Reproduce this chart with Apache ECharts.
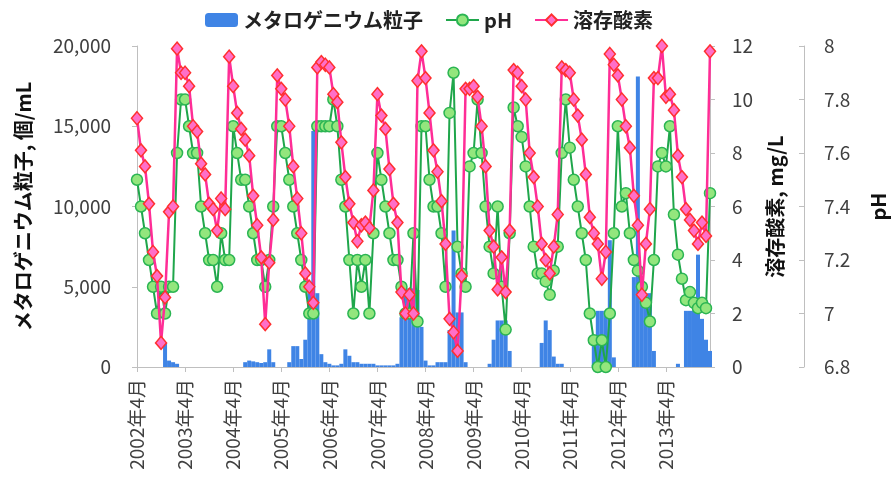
<!DOCTYPE html>
<html>
<head>
<meta charset="utf-8">
<script src="https://cdn.jsdelivr.net/npm/echarts@6/dist/echarts.min.js"></script>
<style>
  html, body { margin: 0; padding: 0; background: #fff; }
  #chart { width: 896px; height: 489px; }
</style>
</head>
<body>
<div id="chart"></div>
<script>
// months 2002-04 .. 2014-03, one value per month
var startYear = 2002
var months = []
for (var i = 0; i < 144; i++) {
  var m = (3 + i) % 12 + 1
  var y = startYear + Math.floor((3 + i) / 12)
  months.push(y + '年' + m + '月')
}

// メタロゲニウム粒子 (個/mL)
var particles = [
  0, 0, 0, 0, 0, 0, 0, 1500, 400, 300, 200, 0,              // 2002
  0, 0, 0, 0, 0, 0, 0, 0, 0, 0, 0, 0,                       // 2003
  0, 0, 0, 300, 400, 350, 300, 250, 300, 1100, 300, 0,      // 2004
  0, 0, 300, 1300, 1300, 500, 1700, 4600, 14700, 4600, 800, 300, // 2005
  200, 100, 100, 200, 1100, 700, 300, 300, 200, 200, 200, 200,   // 2006
  100, 100, 100, 100, 100, 200, 3100, 4900, 4900, 4900, 4800, 2500, // 2007
  400, 100, 100, 300, 300, 300, 2300, 8500, 3400, 3400, 300, 0,  // 2008
  0, 0, 0, 0, 200, 1700, 2900, 2900, 2900, 1000, 0, 0,      // 2009
  0, 0, 0, 0, 0, 1500, 2900, 2300, 650, 200, 200, 0,        // 2010
  0, 0, 0, 0, 0, 0, 1700, 3500, 3500, 3500, 7900, 600,      // 2011
  0, 0, 0, 0, 5600, 18100, 5000, 4600, 4600, 1000, 0, 0,    // 2012
  0, 0, 0, 200, 0, 3500, 3500, 3500, 7000, 3000, 1700, 1000 // 2013
]

// pH
var ph = [
  7.5, 7.4, 7.3, 7.2, 7.1, 7.0, 7.1, 7.0, 7.1, 7.1, 7.6, 7.8,
  7.8, 7.7, 7.6, 7.6, 7.4, 7.3, 7.2, 7.2, 7.1, 7.3, 7.2, 7.2,
  7.7, 7.6, 7.5, 7.5, 7.4, 7.3, 7.2, 7.2, 7.1, 7.2, 7.4, 7.7,
  7.7, 7.6, 7.5, 7.4, 7.3, 7.2, 7.1, 7.0, 7.0, 7.7, 7.7, 7.7,
  7.7, 7.8, 7.7, 7.5, 7.4, 7.2, 7.0, 7.2, 7.1, 7.2, 7.0, 7.3,
  7.6, 7.5, 7.4, 7.3, 7.2, 7.2, 7.1, 7.0, 7.0, 7.3, 6.97, 7.7,
  7.7, 7.5, 7.4, 7.4, 7.3, 7.1, 7.75, 7.9, 7.25, 7.15, 7.1, 7.55,
  7.6, 7.8, 7.6, 7.4, 7.25, 7.15, 7.4, 7.1, 6.94, 7.3, 7.77, 7.7,
  7.66, 7.55, 7.4, 7.25, 7.15, 7.15, 7.12, 7.07, 7.16, 7.25, 7.6, 7.8,
  7.62, 7.5, 7.4, 7.3, 7.2, 7.0, 6.9, 6.8, 6.9, 6.8, 7.0, 7.3,
  7.7, 7.4, 7.45, 7.3, 7.2, 7.16, 7.1, 7.04, 6.97, 7.2, 7.55, 7.6,
  7.55, 7.7, 7.37, 7.22, 7.13, 7.05, 7.08, 7.04, 7.02, 7.04, 7.02, 7.45
]

// 溶存酸素 (mg/L)
var dissolvedOxygen = [
  9.3, 8.1, 7.5, 6.1, 4.3, 3.4, 0.9, 2.6, 5.8, 6.0, 11.9, 11.0,
  11.0, 10.5, 9.0, 8.8, 7.6, 7.2, 6.1, 5.9, 5.1, 6.3, 5.9, 11.6,
  10.5, 9.5, 8.9, 8.5, 7.9, 6.4, 5.3, 4.1, 1.6, 3.9, 5.5, 10.9,
  10.4, 10.0, 9.0, 7.5, 6.3, 5.0, 3.5, 3.0, 2.4, 11.2, 11.4, 11.3,
  11.2, 10.2, 9.9, 8.4, 7.1, 6.1, 5.4, 4.7, 5.3, 5.4, 5.2, 6.6,
  10.2, 9.4, 8.9, 7.4, 6.1, 5.4, 2.8, 2.0, 2.7, 2.0, 10.7, 11.8,
  10.8, 9.5, 8.1, 7.3, 6.2, 4.6, 1.8, 1.3, 0.6, 3.4, 10.4, 10.4,
  10.5, 10.1, 9.0, 7.5, 5.1, 4.5, 2.9, 4.1, 2.8, 5.1, 11.1, 11.0,
  10.5, 10.0, 8.0, 7.1, 6.0, 4.6, 4.0, 3.5, 4.5, 5.7, 11.2, 11.1,
  11.0, 10.0, 9.4, 8.5, 7.2, 5.6, 5.0, 4.6, 3.3, 4.3, 11.7, 11.3,
  10.9, 10.0, 9.0, 8.2, 6.4, 5.3, 2.7, 4.6, 5.9, 10.8, 10.8, 12.0,
  10.1, 10.2, 9.6, 7.9, 7.1, 5.9, 5.5, 5.1, 4.6, 5.4, 4.9, 11.8
]

var font = '"Noto Sans CJK JP", "Noto Sans", sans-serif'
var axisGray = '#bfbfbf'
var textColor = '#404040'

function yearTick(index) {
  return index % 12 === 0
}

var myChart = echarts.init(document.getElementById('chart'))
var option = {
  animation: false,
  textStyle: {fontFamily: font},
  legend: {
    top: 5,
    left: 200,
    itemWidth: 33,
    itemHeight: 14,
    itemGap: 22,
    textStyle: {fontSize: 20, fontWeight: 'bold', color: '#222', fontFamily: font},
    data: ['メタロゲニウム粒子', 'pH', '溶存酸素']
  },
  grid: {
    left: 137,
    right: 183,
    top: 46,
    bottom: 122,
    containLabel: false
  },
  xAxis: {
    type: 'category',
    boundaryGap: false,
    data: months,
    axisLine: {lineStyle: {color: axisGray}},
    axisTick: {
      interval: function(i) { return yearTick(i) },
      length: 5,
      lineStyle: {color: axisGray}
    },
    axisLabel: {
      interval: function(i) { return yearTick(i) },
      rotate: 90,
      margin: 12,
      fontSize: 19,
      color: textColor,
      fontFamily: font
    }
  },
  yAxis: [
    {
      type: 'value',
      position: 'left',
      min: 0,
      max: 20000,
      interval: 5000,
      name: 'メタロゲニウム粒子, 個/mL',
      nameLocation: 'middle',
      nameRotate: 90,
      nameGap: 104,
      nameTextStyle: {fontSize: 20, fontWeight: 'bold', color: '#111', fontFamily: font},
      axisLine: {show: true, lineStyle: {color: axisGray}},
      axisTick: {show: true, length: 5, lineStyle: {color: axisGray}},
      splitLine: {show: false},
      axisLabel: {
        margin: 26,
        fontSize: 19,
        color: textColor,
        fontFamily: font,
        formatter: function(v) { return v.toLocaleString('en-US') }
      }
    },
    {
      type: 'value',
      position: 'right',
      min: 0,
      max: 12,
      interval: 2,
      name: '溶存酸素, mg/L',
      nameLocation: 'middle',
      nameRotate: 90,
      nameGap: 55,
      nameTextStyle: {fontSize: 20, fontWeight: 'bold', color: '#111', fontFamily: font},
      axisLine: {show: true, lineStyle: {color: axisGray}},
      axisTick: {show: true, length: 5, lineStyle: {color: axisGray}},
      splitLine: {show: false},
      axisLabel: {margin: 22, fontSize: 19, color: textColor, fontFamily: font}
    },
    {
      type: 'value',
      position: 'right',
      offset: 94,
      min: 6.8,
      max: 8,
      interval: 0.2,
      name: 'pH',
      nameLocation: 'middle',
      nameRotate: 90,
      nameGap: 64,
      nameTextStyle: {fontSize: 20, fontWeight: 'bold', color: '#111', fontFamily: font},
      axisLine: {show: true, lineStyle: {color: axisGray}},
      axisTick: {show: true, inside: true, length: 5, lineStyle: {color: axisGray}},
      splitLine: {show: false},
      axisLabel: {
        margin: 20,
        fontSize: 19,
        color: textColor,
        fontFamily: font,
        formatter: function(v) { return String(+v.toFixed(1)) }
      }
    }
  ],
  series: [
    {
      name: 'メタロゲニウム粒子',
      type: 'bar',
      yAxisIndex: 0,
      data: particles,
      barCategoryGap: '0%',
      itemStyle: {color: '#3f84e5'},
      z: 1
    },
    {
      name: 'pH',
      type: 'line',
      yAxisIndex: 2,
      data: ph,
      symbol: 'circle',
      symbolSize: 11,
      showAllSymbol: true,
      lineStyle: {color: '#1fa64b', width: 2},
      itemStyle: {color: '#93e67d', borderColor: '#2bb553', borderWidth: 1.5},
      z: 3
    },
    {
      name: '溶存酸素',
      type: 'line',
      yAxisIndex: 1,
      data: dissolvedOxygen,
      symbol: 'diamond',
      symbolSize: [11, 13],
      showAllSymbol: true,
      lineStyle: {color: '#ff2d96', width: 2.5},
      itemStyle: {color: '#ff6fc8', borderColor: '#ff3030', borderWidth: 1.5},
      z: 4
    }
  ]
}

myChart.setOption(option)
</script>
</body>
</html>
